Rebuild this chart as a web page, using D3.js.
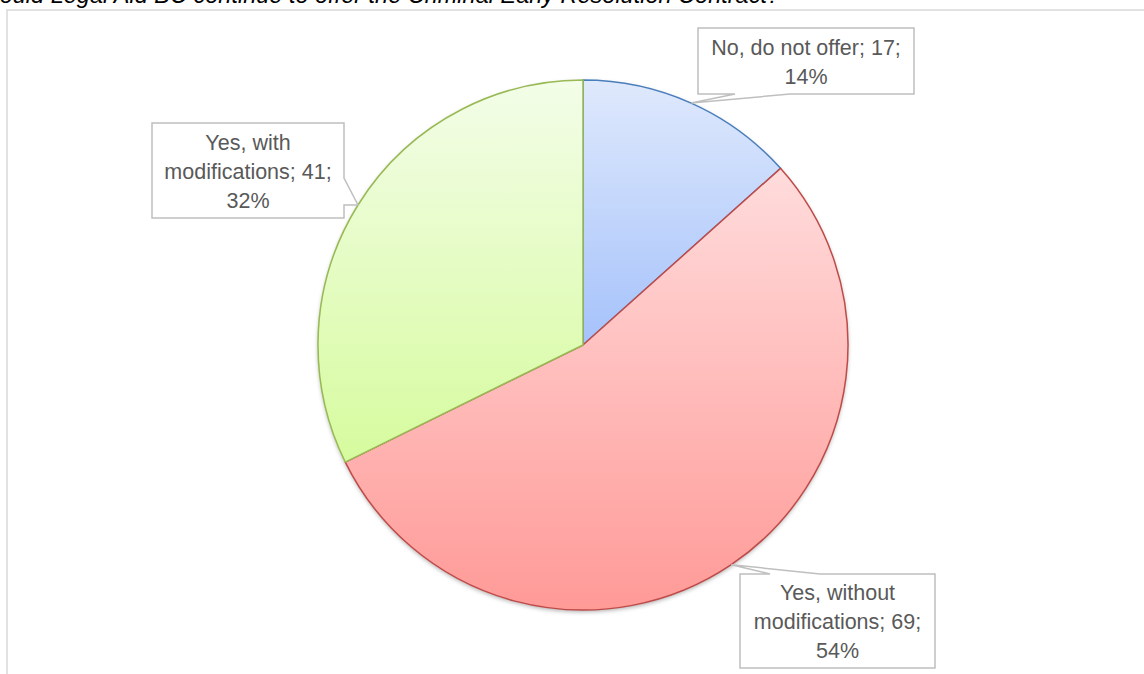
<!DOCTYPE html>
<html><head><meta charset="utf-8">
<script src="https://cdn.jsdelivr.net/npm/d3@7"></script>
<style>html,body{margin:0;padding:0;background:#fff;overflow:hidden}</style>
</head><body><svg id="c" width="1144" height="674"></svg>
<script>
// ---- data ----
const title = "Should Legal Aid BC continue to offer the Criminal Early Resolution Contract?";
const categories = ["No, do not offer", "Yes, without modifications", "Yes, with modifications"];
const counts = [17, 69, 41];
const percentLabels = ["14%", "54%", "32%"];
const labelLines = [
  ["No, do not offer; 17;", "14%"],
  ["Yes, without", "modifications; 69;", "54%"],
  ["Yes, with", "modifications; 41;", "32%"]
];

// ---- styles / layout ----
const colorsTop = ["#dfe9fc", "#ffdcdc", "#f3fde8"];
const colorsBottom = ["#a5c2fb", "#ff9a97", "#d6fb9e"];
const strokes = ["#4a7ebb", "#be4b48", "#98b954"];
const cx = 583, cy = 345, R = 265;
const boxes = [
  {x: 698, y: 28, w: 216, h: 66, edge: "bottom", a: 790, b: 735},
  {x: 740, y: 574, w: 195, h: 94, edge: "top", a: 770, b: 820},
  {x: 152, y: 123, w: 192, h: 95, edge: "right", a: 178, b: 205}
];

const svg = d3.select("#c");
const defs = svg.append("defs");
categories.forEach((c, i) => {
  const g = defs.append("linearGradient").attr("id", "g" + i)
    .attr("x1", 0).attr("y1", 0).attr("x2", 0).attr("y2", 1);
  g.append("stop").attr("offset", "0%").attr("stop-color", colorsTop[i]);
  g.append("stop").attr("offset", "100%").attr("stop-color", colorsBottom[i]);
});
const f = defs.append("filter").attr("id", "sh").attr("x", "-10%").attr("y", "-10%").attr("width", "120%").attr("height", "120%");
f.append("feDropShadow").attr("dx", 0).attr("dy", 2).attr("stdDeviation", 2).attr("flood-color", "#000").attr("flood-opacity", 0.3);

// frame
svg.append("rect").attr("x", 7).attr("y", 10).attr("width", 1200).attr("height", 800)
  .attr("fill", "none").attr("stroke", "#d9d9d9").attr("stroke-width", 1.5);

// title (cut off at top-left like the reference)
svg.append("text").attr("x", 780).attr("y", 3).attr("text-anchor", "end")
  .attr("font-family", "'Liberation Sans', Arial, sans-serif").attr("font-style", "italic")
  .attr("font-size", 23.5).attr("fill", "#000").text(title);

const pie = d3.pie().sort(null).value(d => d)(counts);
const arc = d3.arc().innerRadius(0).outerRadius(R);
const gp = svg.append("g").attr("transform", `translate(${cx},${cy})`);
gp.append("g").attr("filter", "url(#sh)").selectAll("path").data(pie).join("path")
  .attr("d", arc).attr("fill", (d, i) => `url(#g${i})`);
gp.selectAll("path.s").data(pie).join("path").attr("class", "s")
  .attr("d", arc).attr("fill", (d, i) => `url(#g${i})`)
  .attr("stroke", (d, i) => strokes[i]).attr("stroke-width", 1.5).attr("stroke-linejoin", "round");

// callouts
pie.forEach((d, i) => {
  const m = (d.startAngle + d.endAngle) / 2;
  const tx = cx + R * Math.sin(m), ty = cy - R * Math.cos(m);
  const b = boxes[i];
  const x0 = b.x, y0 = b.y, x1 = b.x + b.w, y1 = b.y + b.h;
  let p;
  if (b.edge === "bottom") {
    p = `M${x0},${y0}H${x1}V${y1}H${b.a}L${tx},${ty}L${b.b},${y1}H${x0}Z`;
  } else if (b.edge === "top") {
    p = `M${x0},${y0}H${b.a}L${tx},${ty}L${b.b},${y0}H${x1}V${y1}H${x0}Z`;
  } else {
    p = `M${x0},${y0}H${x1}V${b.a}L${tx},${ty}L${x1},${b.b}V${y1}H${x0}Z`;
  }
  svg.append("path").attr("d", p).attr("fill", "#fff").attr("stroke", "#bfbfbf").attr("stroke-width", 1.5);
  const lines = labelLines[i];
  const n = lines.length;
  const top = y0 + (b.h - n * 29) / 2;
  lines.forEach((t, k) => {
    svg.append("text").attr("x", (x0 + x1) / 2).attr("y", top + 22.5 + k * 29)
      .attr("text-anchor", "middle").attr("font-family", "'Liberation Sans', Arial, sans-serif")
      .attr("font-size", 21.5).attr("fill", "#595959").text(t);
  });
});
</script></body></html>
